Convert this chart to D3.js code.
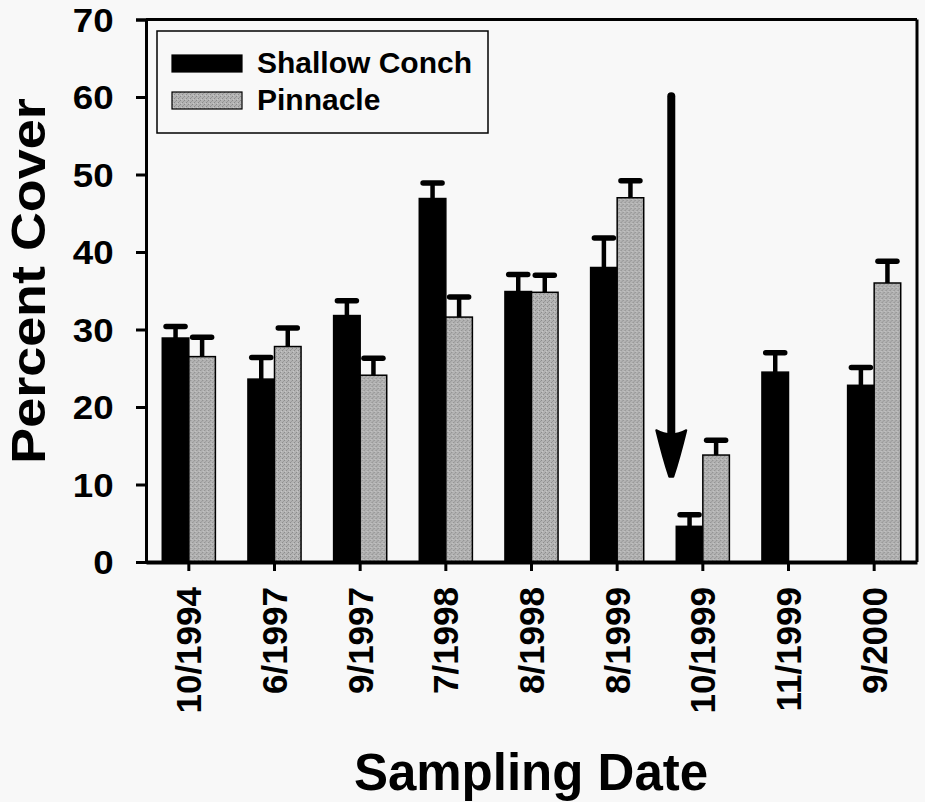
<!DOCTYPE html>
<html>
<head>
<meta charset="utf-8">
<script src="https://cdn.jsdelivr.net/npm/d3@7"></script>
<style>
  html, body { margin: 0; padding: 0; background: #f8f8f8; }
  svg { display: block; }
</style>
</head>
<body>
<svg id="chart" width="925" height="802"></svg>
<script>
// ---- data ----
const dates = ["10/1994", "6/1997", "9/1997", "7/1998", "8/1998", "8/1999", "10/1999", "11/1999", "9/2000"];
const seriesNames = ["Shallow Conch", "Pinnacle"];
const shallowConch = [28.9, 23.6, 31.8, 46.9, 34.9, 38.0, 4.6, 24.5, 22.8];
const shallowConchErr = [1.5, 2.8, 1.9, 2.0, 2.2, 3.8, 1.5, 2.5, 2.3];
const pinnacle = [26.5, 27.8, 24.1, 31.6, 34.8, 47.0, 13.8, null, 36.0];
const pinnacleErr = [2.5, 2.4, 2.2, 2.6, 2.2, 2.2, 1.9, null, 2.8];
const yTicks = [0, 10, 20, 30, 40, 50, 60, 70];
const arrowFrom = 60.6, arrowTo = 11.0;

// ---- layout ----
const svg = d3.select("#chart");
const L = 146, R = 917, T = 19.5, B = 562;
const font = "'Liberation Sans', Arial, Helvetica, sans-serif";

// stippled grey pattern
const defs = svg.append("defs");
const pat = defs.append("pattern").attr("id", "stipple")
  .attr("patternUnits", "userSpaceOnUse").attr("width", 4).attr("height", 4);
pat.append("rect").attr("width", 4).attr("height", 4).attr("fill", "#b3b3b3");
pat.append("rect").attr("x", 0).attr("y", 0).attr("width", 1).attr("height", 1).attr("fill", "#8a8a8a");
pat.append("rect").attr("x", 2).attr("y", 2).attr("width", 1).attr("height", 1).attr("fill", "#8a8a8a");
pat.append("rect").attr("x", 3).attr("y", 1).attr("width", 1).attr("height", 1).attr("fill", "#9a9a9a");
pat.append("rect").attr("x", 1).attr("y", 3).attr("width", 1).attr("height", 1).attr("fill", "#c8c8c8");

const colors = { "Shallow Conch": "#000000", "Pinnacle": "url(#stipple)" };

const x0 = d3.scaleBand().domain(dates).range([L, R]).paddingInner(0.38).paddingOuter(0.19);
const x1 = d3.scaleBand().domain(seriesNames).range([0, x0.bandwidth()]);
const y = d3.scaleLinear().domain([0, 70]).range([B, T]);

const rows = dates.map((d, i) => ({
  date: d,
  vals: [
    { s: "Shallow Conch", v: shallowConch[i], e: shallowConchErr[i] },
    { s: "Pinnacle", v: pinnacle[i], e: pinnacleErr[i] }
  ].filter(o => o.v != null)
}));

// bars
const g = svg.append("g");
const grp = g.selectAll("g.grp").data(rows).join("g")
  .attr("transform", d => `translate(${x0(d.date)},0)`);
grp.selectAll("rect").data(d => d.vals).join("rect")
  .attr("x", d => x1(d.s))
  .attr("width", x1.bandwidth())
  .attr("y", d => y(d.v))
  .attr("height", d => y(0) - y(d.v))
  .attr("fill", d => colors[d.s])
  .attr("stroke", "#000").attr("stroke-width", 1.5);

// error bars
const capW = 19;
grp.selectAll("line.stem").data(d => d.vals).join("line")
  .attr("class", "stem")
  .attr("x1", d => x1(d.s) + x1.bandwidth() / 2)
  .attr("x2", d => x1(d.s) + x1.bandwidth() / 2)
  .attr("y1", d => y(d.v))
  .attr("y2", d => y(d.v + d.e))
  .attr("stroke", "#000").attr("stroke-width", 4.5);
grp.selectAll("line.cap").data(d => d.vals).join("line")
  .attr("class", "cap")
  .attr("x1", d => x1(d.s) + x1.bandwidth() / 2 - capW / 2)
  .attr("x2", d => x1(d.s) + x1.bandwidth() / 2 + capW / 2)
  .attr("y1", d => y(d.v + d.e))
  .attr("y2", d => y(d.v + d.e))
  .attr("stroke", "#000").attr("stroke-width", 5.5).attr("stroke-linecap", "round");

// frame (top & right)
svg.append("line").attr("x1", L).attr("x2", R).attr("y1", T).attr("y2", T)
  .attr("stroke", "#000").attr("stroke-width", 3);
svg.append("line").attr("x1", R).attr("x2", R).attr("y1", T).attr("y2", B)
  .attr("stroke", "#000").attr("stroke-width", 3);

// y axis
const yAxis = svg.append("g").attr("transform", `translate(${L},0)`)
  .call(d3.axisLeft(y).tickValues(yTicks).tickSize(10).tickPadding(20));
yAxis.select(".domain").attr("stroke-width", 3);
yAxis.selectAll(".tick line").attr("stroke-width", 3);
yAxis.selectAll(".tick text")
  .attr("font-family", font).attr("font-weight", "bold").attr("font-size", 34).attr("fill", "#000")
  .attr("dy", "0.35em")
  .attr("transform", "scale(1.08,1)");

// x axis
const xAxis = svg.append("g").attr("transform", `translate(0,${B})`)
  .call(d3.axisBottom(x0).tickSize(9).tickSizeOuter(0).tickPadding(14));
xAxis.select(".domain").attr("stroke-width", 4);
xAxis.selectAll(".tick line").attr("stroke-width", 3);
xAxis.selectAll(".tick text")
  .attr("font-family", font).attr("font-weight", "bold").attr("font-size", 35).attr("fill", "#000")
  .attr("transform", "rotate(-90)")
  .attr("text-anchor", "end")
  .attr("x", -25).attr("y", 0).attr("dy", "0.36em");

// axis titles
svg.append("text")
  .attr("transform", `translate(45,281) rotate(-90) scale(1.1,1)`)
  .attr("text-anchor", "middle")
  .attr("font-family", font).attr("font-weight", "bold").attr("font-size", 49)
  .text("Percent Cover");
svg.append("text")
  .attr("x", 531).attr("y", 790)
  .attr("text-anchor", "middle")
  .attr("font-family", font).attr("font-weight", "bold").attr("font-size", 51)
  .text("Sampling Date");

// legend
const lg = svg.append("g");
lg.append("rect").attr("x", 157).attr("y", 31).attr("width", 331).attr("height", 102)
  .attr("fill", "none").attr("stroke", "#000").attr("stroke-width", 1.5);
seriesNames.forEach((s, i) => {
  const yy = 55 + i * 37;
  lg.append("rect").attr("x", 172).attr("y", yy).attr("width", 70).attr("height", 17)
    .attr("fill", colors[s]).attr("stroke", "#000").attr("stroke-width", 1.2);
  lg.append("text").attr("x", 257).attr("y", yy + 18)
    .attr("font-family", font).attr("font-weight", "bold").attr("font-size", 30)
    .text(s);
});

// arrow annotation
const ax = x0("10/1999") - 5;
const yTop = y(arrowFrom), yTip = y(arrowTo), yHead = y(arrowTo + 6);
svg.append("line").attr("x1", ax).attr("x2", ax).attr("y1", yTop + 4).attr("y2", yHead + 5)
  .attr("stroke", "#000").attr("stroke-width", 8).attr("stroke-linecap", "round");
svg.append("path")
  .attr("d", `M${ax - 15},${yHead} Q${ax},${yHead + 8} ${ax + 15},${yHead} Q${ax + 8},${yTip - 18} ${ax + 2},${yTip} L${ax - 2},${yTip} Q${ax - 8},${yTip - 18} ${ax - 15},${yHead} Z`)
  .attr("fill", "#000").attr("stroke", "#000").attr("stroke-width", 2).attr("stroke-linejoin", "round");
</script>
</body>
</html>
